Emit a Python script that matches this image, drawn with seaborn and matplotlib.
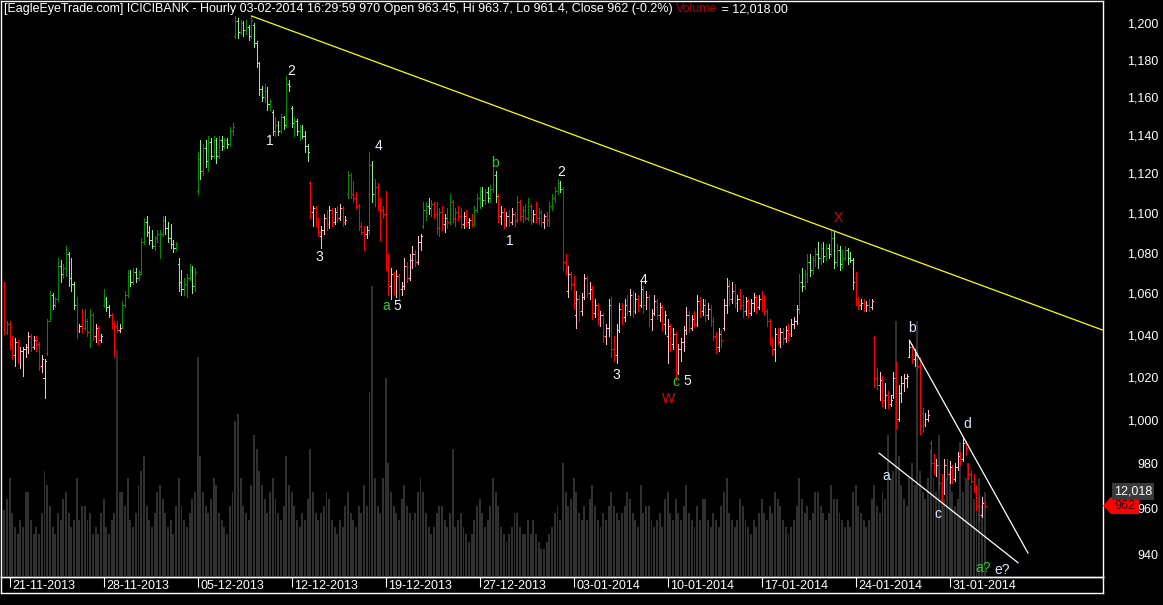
import numpy as np
import pandas as pd
import matplotlib
matplotlib.use("Agg")
import matplotlib.pyplot as plt
import matplotlib.transforms as mtransforms
from matplotlib.patches import Polygon
from matplotlib.ticker import NullLocator
import seaborn as sns

# ---------------- data ----------------
trading_days = ['20-11-2013', '21-11-2013', '22-11-2013', '25-11-2013', '26-11-2013', '27-11-2013',
                '28-11-2013', '29-11-2013', '02-12-2013', '03-12-2013', '04-12-2013', '05-12-2013',
                '06-12-2013', '09-12-2013', '10-12-2013', '11-12-2013', '12-12-2013', '13-12-2013',
                '16-12-2013', '17-12-2013', '18-12-2013', '19-12-2013', '20-12-2013', '23-12-2013',
                '24-12-2013', '26-12-2013', '27-12-2013', '30-12-2013', '31-12-2013', '01-01-2014',
                '02-01-2014', '03-01-2014', '06-01-2014', '07-01-2014', '08-01-2014', '09-01-2014',
                '10-01-2014', '13-01-2014', '14-01-2014', '15-01-2014', '16-01-2014', '17-01-2014',
                '20-01-2014', '21-01-2014', '22-01-2014', '23-01-2014', '24-01-2014', '27-01-2014',
                '28-01-2014', '29-01-2014', '30-01-2014', '31-01-2014', '03-02-2014']
bars_in_day = [2] + [7] * 52
date_ticks = ['21-11-2013', '28-11-2013', '05-12-2013', '12-12-2013', '19-12-2013', '27-12-2013',
              '03-01-2014', '10-01-2014', '17-01-2014', '24-01-2014', '31-01-2014']
price_ticks = [940, 960, 980, 1000, 1020, 1040, 1060, 1080, 1100, 1120, 1140, 1160, 1180, 1200]

opens = [1064, 1042,
    1046, 1036, 1031, 1037, 1029, 1033, 1034,
    1035, 1040, 1035, 1038, 1036, 1026, 1020,
    1032, 1047, 1060, 1055, 1058, 1074, 1070,
    1073, 1080, 1068, 1065, 1055, 1043, 1045,
    1044, 1047, 1042, 1050, 1040, 1044, 1038,
    1055, 1058, 1054, 1050, 1046, 1045, 1043,
    1044, 1055, 1060, 1069, 1066, 1071, 1068,
    1071, 1086, 1096, 1091, 1087, 1084, 1088,
    1084, 1090, 1097, 1093, 1088, 1085, 1083,
    1075, 1066, 1063, 1065, 1068, 1072, 1064,
    1112, 1128, 1122, 1134, 1127, 1137, 1130,
    1138, 1130, 1138, 1135, 1138, 1136, 1143,
    1194, 1202, 1196, 1201, 1197, 1199, 1194,
    1200, 1190, 1179, 1165, 1161, 1164, 1157,
    1153, 1143, 1146, 1143, 1150, 1146, 1168,
    1155, 1147, 1148, 1143, 1145, 1140, 1135,
    1116, 1101, 1103, 1096, 1089, 1092, 1098,
    1095, 1102, 1096, 1101, 1098, 1103, 1096,
    1110, 1120, 1110, 1108, 1104, 1094, 1091,
    1090, 1092, 1125, 1110, 1114, 1104, 1102,
    1100, 1076, 1064, 1070, 1062, 1069, 1063,
    1064, 1074, 1068, 1077, 1080, 1076, 1086,
    1094, 1102, 1104, 1103, 1105, 1100, 1093,
    1101, 1095, 1098, 1096, 1106, 1098, 1101,
    1099, 1095, 1099, 1096, 1097, 1095, 1102,
    1108, 1112, 1107, 1111, 1108, 1113, 1120,
    1109, 1099, 1101, 1095, 1099, 1096, 1100,
    1097, 1106, 1099, 1102, 1098, 1104, 1097,
    1100, 1098, 1101, 1096, 1099, 1097, 1104,
    1108, 1112, 1116, 1113, 1076, 1062, 1070,
    1065, 1050, 1058, 1052, 1059, 1068, 1061,
    1063, 1051, 1055, 1048, 1050, 1040, 1044,
    1055, 1034, 1031, 1043, 1053, 1049, 1055,
    1052, 1060, 1052, 1058, 1055, 1063, 1055,
    1059, 1048, 1051, 1057, 1050, 1054, 1046,
    1040, 1045, 1036, 1041, 1023, 1034, 1037,
    1043, 1050, 1044, 1048, 1046, 1057, 1052,
    1055, 1050, 1053, 1047, 1040, 1035, 1041,
    1044, 1055, 1064, 1058, 1062, 1056, 1058,
    1055, 1052, 1057, 1051, 1056, 1059, 1054,
    1058, 1055, 1052, 1047, 1038, 1034, 1041,
    1037, 1042, 1039, 1043, 1041, 1046, 1047,
    1053, 1066, 1064, 1070, 1076, 1072, 1077,
    1080, 1078, 1083, 1079, 1083, 1080, 1088,
    1076, 1082, 1075, 1078, 1082, 1078, 1077,
    1068, 1058, 1055, 1056, 1054, 1055, 1054,
    1039, 1020, 1017, 1019, 1010, 1012, 1008,
    1012, 1020, 1001, 1013, 1018, 1020, 1030,
    1035, 1029, 1031, 1026, 1004, 999, 1001,
    990, 981, 978, 980, 972, 968, 980,
    976, 979, 974, 979, 984, 983, 990,
    980, 976, 973, 970, 962, 958, 963.45]

highs = [1066, 1047,
    1047, 1040, 1039, 1038, 1035, 1035, 1036,
    1042, 1041, 1040, 1040, 1037, 1031, 1029,
    1048, 1062, 1061, 1059, 1078, 1077, 1075,
    1084, 1081, 1078, 1066, 1059, 1046, 1053,
    1053, 1048, 1053, 1051, 1046, 1045, 1041,
    1063, 1059, 1055, 1051, 1047, 1047, 1046,
    1057, 1062, 1072, 1072, 1073, 1073, 1072,
    1088, 1098, 1099, 1094, 1092, 1089, 1092,
    1092, 1099, 1099, 1096, 1095, 1087, 1086,
    1078, 1072, 1068, 1070, 1075, 1074, 1073,
    1132, 1138, 1136, 1138, 1140, 1139, 1140,
    1139, 1140, 1140, 1139, 1139, 1145, 1147,
    1205, 1204, 1203, 1202, 1203, 1200, 1205,
    1201, 1191, 1180, 1167, 1168, 1166, 1160,
    1154, 1150, 1148, 1152, 1151, 1172, 1170,
    1156, 1150, 1149, 1146, 1146, 1143, 1136,
    1117, 1104, 1104, 1098, 1094, 1100, 1102,
    1104, 1103, 1103, 1104, 1105, 1104, 1099,
    1122, 1121, 1117, 1111, 1105, 1096, 1094,
    1094, 1132, 1127, 1118, 1116, 1108, 1104,
    1112, 1080, 1073, 1071, 1072, 1070, 1066,
    1078, 1076, 1080, 1084, 1082, 1089, 1090,
    1106, 1106, 1108, 1107, 1106, 1106, 1103,
    1104, 1100, 1103, 1110, 1107, 1103, 1104,
    1103, 1101, 1102, 1098, 1100, 1104, 1110,
    1114, 1114, 1113, 1114, 1115, 1125, 1122,
    1110, 1104, 1103, 1101, 1102, 1103, 1101,
    1109, 1107, 1104, 1105, 1108, 1105, 1102,
    1106, 1103, 1102, 1100, 1101, 1106, 1110,
    1114, 1118, 1117, 1114, 1080, 1074, 1071,
    1069, 1062, 1060, 1061, 1070, 1069, 1066,
    1064, 1058, 1056, 1052, 1051, 1046, 1058,
    1059, 1040, 1046, 1056, 1056, 1058, 1060,
    1063, 1062, 1061, 1060, 1066, 1064, 1062,
    1060, 1053, 1060, 1058, 1056, 1055, 1052,
    1048, 1046, 1044, 1042, 1036, 1039, 1045,
    1054, 1052, 1050, 1052, 1060, 1059, 1058,
    1058, 1056, 1055, 1049, 1042, 1044, 1043,
    1058, 1068, 1067, 1066, 1065, 1060, 1063,
    1060, 1059, 1058, 1058, 1061, 1060, 1060,
    1062, 1060, 1053, 1048, 1039, 1044, 1044,
    1044, 1044, 1045, 1046, 1048, 1049, 1055,
    1070, 1073, 1072, 1080, 1080, 1079, 1083,
    1086, 1085, 1086, 1085, 1085, 1092, 1091,
    1085, 1084, 1082, 1084, 1083, 1081, 1078,
    1071, 1059, 1058, 1058, 1057, 1058, 1058,
    1040, 1025, 1023, 1021, 1018, 1014, 1012,
    1023, 1028, 1017, 1021, 1022, 1022, 1038,
    1036, 1034, 1033, 1030, 1006, 1004, 1005,
    991, 985, 983, 981, 976, 983, 983,
    982, 980, 981, 986, 986, 993, 991,
    981, 978, 976, 971, 967, 966, 963.7]

lows = [1041, 1041,
    1034, 1029, 1026, 1027, 1025, 1021, 1030,
    1032, 1033, 1034, 1033, 1024, 1023, 1011,
    1031, 1047, 1053, 1054, 1057, 1066, 1068,
    1069, 1064, 1062, 1053, 1039, 1042, 1042,
    1043, 1040, 1035, 1038, 1037, 1036, 1037,
    1054, 1052, 1049, 1044, 1030, 1042, 1042,
    1044, 1054, 1059, 1064, 1065, 1066, 1067,
    1070, 1085, 1089, 1085, 1083, 1082, 1086,
    1078, 1089, 1090, 1086, 1083, 1081, 1082,
    1062, 1060, 1060, 1059, 1067, 1061, 1062,
    1110, 1118, 1120, 1124, 1122, 1128, 1129,
    1126, 1129, 1133, 1134, 1134, 1135, 1141,
    1193, 1193, 1195, 1194, 1195, 1192, 1193,
    1188, 1177, 1162, 1159, 1158, 1154, 1154,
    1141, 1140, 1141, 1142, 1144, 1145, 1164,
    1145, 1140, 1141, 1138, 1139, 1132, 1127,
    1098, 1094, 1094, 1089, 1083, 1090, 1092,
    1093, 1094, 1095, 1096, 1097, 1094, 1095,
    1108, 1108, 1106, 1103, 1092, 1090, 1082,
    1088, 1090, 1106, 1104, 1102, 1087, 1098,
    1072, 1060, 1058, 1060, 1059, 1058, 1060,
    1063, 1066, 1067, 1073, 1074, 1075, 1082,
    1093, 1097, 1100, 1099, 1098, 1090, 1089,
    1092, 1091, 1093, 1095, 1096, 1094, 1097,
    1093, 1093, 1094, 1093, 1094, 1094, 1101,
    1103, 1104, 1105, 1106, 1106, 1111, 1106,
    1096, 1095, 1093, 1094, 1094, 1095, 1094,
    1096, 1097, 1096, 1097, 1097, 1095, 1096,
    1096, 1095, 1094, 1093, 1094, 1094, 1102,
    1106, 1110, 1111, 1072, 1070, 1059, 1063,
    1053, 1044, 1047, 1050, 1058, 1059, 1058,
    1048, 1049, 1046, 1045, 1037, 1036, 1040,
    1030, 1028, 1027, 1042, 1046, 1047, 1050,
    1050, 1049, 1051, 1052, 1054, 1051, 1053,
    1045, 1043, 1050, 1048, 1047, 1043, 1041,
    1027, 1033, 1034, 1019, 1022, 1028, 1033,
    1041, 1042, 1043, 1045, 1045, 1049, 1050,
    1047, 1048, 1045, 1038, 1032, 1033, 1035,
    1043, 1051, 1055, 1056, 1054, 1052, 1053,
    1049, 1050, 1049, 1050, 1052, 1051, 1053,
    1052, 1050, 1045, 1036, 1031, 1028, 1036,
    1035, 1036, 1037, 1038, 1040, 1044, 1046,
    1051, 1062, 1063, 1066, 1069, 1070, 1074,
    1073, 1075, 1076, 1077, 1078, 1079, 1073,
    1074, 1072, 1073, 1077, 1075, 1076, 1063,
    1055, 1053, 1053, 1052, 1052, 1052, 1053,
    1016, 1015, 1010, 1007, 1006, 1006, 1007,
    1011, 997, 1000, 1009, 1014, 1016, 1030,
    1027, 1026, 1024, 994, 995, 998, 1000,
    979, 976, 975, 970, 963, 967, 974,
    972, 972, 973, 978, 980, 982, 985,
    974, 972, 968, 960, 955, 957, 961.4]

closes = [1045, 1046,
    1036, 1031, 1037, 1029, 1033, 1034, 1035,
    1040, 1035, 1038, 1036, 1026, 1029, 1028,
    1047, 1060, 1055, 1058, 1074, 1070, 1073,
    1080, 1068, 1065, 1055, 1043, 1045, 1044,
    1047, 1042, 1050, 1040, 1044, 1038, 1040,
    1058, 1054, 1050, 1046, 1045, 1043, 1044,
    1055, 1060, 1069, 1066, 1071, 1068, 1070,
    1086, 1096, 1091, 1087, 1084, 1088, 1090,
    1090, 1097, 1093, 1088, 1085, 1083, 1085,
    1066, 1063, 1065, 1068, 1072, 1064, 1071,
    1128, 1122, 1134, 1127, 1137, 1130, 1138,
    1130, 1138, 1135, 1138, 1136, 1143, 1145,
    1202, 1196, 1201, 1197, 1199, 1194, 1203,
    1190, 1179, 1165, 1161, 1164, 1157, 1159,
    1143, 1146, 1143, 1150, 1146, 1168, 1167,
    1147, 1148, 1143, 1145, 1140, 1135, 1132,
    1101, 1103, 1096, 1091, 1092, 1098, 1095,
    1102, 1096, 1101, 1098, 1103, 1096, 1097,
    1120, 1110, 1108, 1104, 1094, 1091, 1090,
    1092, 1125, 1110, 1114, 1104, 1102, 1100,
    1076, 1064, 1070, 1062, 1069, 1063, 1064,
    1074, 1068, 1077, 1080, 1076, 1086, 1089,
    1102, 1104, 1103, 1105, 1100, 1093, 1101,
    1095, 1098, 1096, 1106, 1098, 1101, 1099,
    1095, 1099, 1096, 1097, 1095, 1102, 1108,
    1112, 1107, 1111, 1108, 1113, 1120, 1109,
    1099, 1101, 1095, 1099, 1096, 1100, 1097,
    1106, 1099, 1102, 1098, 1104, 1097, 1100,
    1098, 1101, 1096, 1099, 1097, 1104, 1108,
    1112, 1116, 1113, 1076, 1073, 1070, 1065,
    1056, 1058, 1052, 1059, 1068, 1061, 1063,
    1051, 1055, 1048, 1050, 1040, 1044, 1055,
    1034, 1031, 1043, 1053, 1049, 1055, 1052,
    1060, 1052, 1058, 1055, 1063, 1055, 1059,
    1048, 1051, 1057, 1050, 1054, 1046, 1050,
    1045, 1036, 1041, 1023, 1034, 1037, 1043,
    1050, 1044, 1048, 1046, 1057, 1052, 1055,
    1050, 1053, 1047, 1040, 1035, 1041, 1038,
    1055, 1064, 1058, 1062, 1056, 1058, 1055,
    1052, 1057, 1051, 1056, 1059, 1054, 1058,
    1055, 1052, 1047, 1038, 1034, 1041, 1039,
    1042, 1039, 1043, 1041, 1046, 1047, 1053,
    1066, 1064, 1070, 1076, 1072, 1077, 1080,
    1078, 1083, 1079, 1083, 1080, 1088, 1076,
    1082, 1075, 1078, 1082, 1078, 1077, 1066,
    1058, 1055, 1056, 1054, 1055, 1054, 1057,
    1020, 1017, 1019, 1010, 1012, 1008, 1010,
    1020, 1001, 1013, 1018, 1020, 1021, 1035,
    1029, 1031, 1026, 998, 999, 1001, 1003,
    981, 978, 980, 972, 968, 980, 976,
    979, 974, 979, 984, 983, 990, 988,
    976, 973, 970, 962, 958, 963, 962]

volumes = [9500, 11000,
    14000, 9000, 7000, 6000, 8000, 7000, 12000,
    12000, 8000, 6000, 7000, 6000, 9000, 15000,
    13000, 10000, 7000, 6000, 9000, 8000, 11000,
    12000, 9000, 7000, 8000, 14000, 8000, 10000,
    10000, 8000, 9000, 6000, 7000, 6000, 9000,
    11000, 7000, 6000, 8000, 9000, 32000, 12000,
    12000, 10000, 14000, 8000, 7000, 9000, 13000,
    15000, 17000, 10000, 8000, 7000, 9000, 12000,
    13000, 11000, 9000, 7000, 8000, 6000, 10000,
    14000, 10000, 8000, 7000, 9000, 11000, 12000,
    31000, 17000, 12000, 10000, 9000, 11000, 14000,
    13000, 9000, 8000, 7000, 6000, 10000, 12000,
    22000, 23000, 14000, 10000, 9000, 8000, 13000,
    20000, 18000, 15000, 13000, 11000, 9000, 12000,
    14000, 11000, 9000, 8000, 10000, 17000, 13000,
    12000, 10000, 8000, 7000, 9000, 8000, 11000,
    18000, 12000, 9000, 8000, 9000, 10000, 12000,
    11000, 8000, 7000, 6000, 8000, 7000, 10000,
    12000, 9000, 8000, 7000, 10000, 9000, 13000,
    10000, 26000, 41000, 14000, 10000, 9000, 14000,
    28000, 16000, 12000, 10000, 9000, 8000, 11000,
    13000, 10000, 9000, 8000, 9000, 12000, 14000,
    12000, 9000, 7000, 6000, 7000, 9000, 10000,
    10000, 8000, 7000, 9000, 18000, 7000, 8000,
    9000, 7000, 6000, 5000, 6000, 8000, 10000,
    11000, 9000, 7000, 8000, 10000, 14000, 12000,
    10000, 7000, 6000, 5000, 6000, 7000, 9000,
    9000, 7000, 6000, 6000, 8000, 6000, 8000,
    6000, 5000, 4000, 4000, 5000, 6000, 7000,
    9000, 10000, 8000, 16000, 12000, 10000, 11000,
    14000, 12000, 9000, 8000, 10000, 8000, 11000,
    13000, 10000, 8000, 7000, 9000, 8000, 10000,
    12000, 10000, 9000, 8000, 9000, 10000, 12000,
    11000, 9000, 8000, 7000, 13000, 9000, 10000,
    10000, 8000, 7000, 8000, 9000, 7000, 11000,
    12000, 9000, 8000, 11000, 9000, 8000, 10000,
    13000, 9000, 8000, 7000, 10000, 8000, 11000,
    11000, 8000, 7000, 9000, 8000, 7000, 10000,
    12000, 14000, 9000, 8000, 7000, 8000, 11000,
    10000, 8000, 7000, 6000, 8000, 7000, 9000,
    11000, 9000, 8000, 10000, 9000, 12000, 11000,
    10000, 8000, 7000, 6000, 7000, 8000, 10000,
    14000, 11000, 9000, 10000, 8000, 9000, 12000,
    12000, 10000, 9000, 8000, 9000, 13000, 11000,
    11000, 9000, 8000, 7000, 8000, 7000, 12000,
    13000, 10000, 9000, 8000, 7000, 8000, 11000,
    13000, 10000, 9000, 12000, 11000, 20000, 14000,
    15000, 36000, 17000, 13000, 11000, 10000, 14000,
    16000, 13000, 36000, 15000, 12000, 11000, 14000,
    18000, 14000, 12000, 20000, 13000, 11000, 14000,
    15000, 12000, 10000, 11000, 19000, 12000, 14000,
    16000, 13000, 11000, 12000, 14000, 10000, 12018]

wave_labels = ['1', '2', '3', '4', 'a', '5', 'b', '1', '2', '3', '4', 'c', '5', 'W', 'X',
               'b', 'a', 'c', 'd', 'a?', 'e?']
wave_bar = [98.9, 106.8, 117.2, 139.2, 142.1, 146.3, 182.8, 188.4, 207.4, 227.8, 237.9, 250.2,
            254.3, 247.2, 310.4, 338.0, 328.3, 347.7, 358.5, 364.5, 371.5]
wave_price = [1137.6, 1174.9, 1078.6, 1135.0, 1054.5, 1054.5, 1126.2, 1086.5, 1121.6, 1021.6,
              1067.2, 1018.3, 1018.8, 1010.2, 1098.1, 1043.9, 975.2, 958.4, 998.7, 934.8, 933.9]
wave_kind = ['w', 'w', 'w', 'w', 'g', 'w', 'g', 'w', 'w', 'w', 'w', 'g', 'w', 'r', 'r',
             'b', 'b', 'b', 'b', 'g', 'b']
lower_line_bar = [325.7, 377.5]
lower_line_price = [985.5, 937.0]

# ---------------- figure ----------------
sns.set_theme(style="dark")
plt.rcParams['font.family'] = ['Liberation Sans', 'DejaVu Sans']

W, H = 1163, 605
fig = plt.figure(figsize=(W / 100, H / 100), dpi=100, facecolor='black')

x_left, x_right = -1.2, 409.1
ax = fig.add_axes([1 / W, 1 - 577 / H, 1102 / W, 576 / H])
axv = ax.twinx()
ax.set_zorder(2)
axv.set_zorder(1)
ax.patch.set_visible(False)
axv.patch.set_facecolor('black')

n = len(closes)
idx = np.arange(n)
o = np.array(opens, float); h = np.array(highs, float)
l = np.array(lows, float); c = np.array(closes, float)
v = np.array(volumes, float)

# volume
axv.bar(idx, v, width=0.72, color='#303030', linewidth=0, antialiased=False)
axv.set_ylim(0, 81150)
axv.set_xlim(x_left, x_right)
axv.set_yticks([])
axv.grid(False)
for s in axv.spines.values():
    s.set_visible(False)

# price bars (trend colour from a slow EMA, shade from bar direction)
ema = pd.Series(c).ewm(span=100, adjust=False).mean().values
bull = c > ema
up = c >= o
cols = np.where(bull, np.where(up, '#008c00', '#90ee90'), np.where(up, '#ffc0cb', '#ff0000'))
ax.set_yscale('log')
lw = 0.72
ax.vlines(idx, l, h, colors=cols, linewidth=lw, antialiased=False)
ax.hlines(o, idx - 0.4, idx, colors=cols, linewidth=lw, antialiased=False)
ax.hlines(c, idx, idx + 0.4, colors=cols, linewidth=lw, antialiased=False)
ax.set_xlim(x_left, x_right)
ax.set_ylim(930.9, 1213.3)
ax.set_xticks([])
ax.set_yticks([])
ax.yaxis.set_minor_locator(NullLocator())
ax.grid(False)
for s in ax.spines.values():
    s.set_color('white')
    s.set_linewidth(1.0)

# trend lines
def log_line(i0, p0, i1, p1, i_end_a, i_end_b):
    k = (np.log(p1) - np.log(p0)) / (i1 - i0)
    xs = np.array([i_end_a, i_end_b])
    return xs, np.exp(np.log(p0) + k * (xs - i0))

day_start = np.concatenate([[0], np.cumsum(bars_in_day)[:-1]])
i_top = int(np.where(h == h.max())[0][-1])
seg = slice(day_start[trading_days.index('20-01-2014')], day_start[trading_days.index('27-01-2014')])
i_x = seg.start + int(np.argmax(h[seg]))
xs, ys = log_line(i_top, h[i_top], i_x, h[i_x], i_top, x_right)
sns.lineplot(x=xs, y=ys, ax=ax, color='#ffff00', linewidth=0.9, sort=False)

seg_b = slice(day_start[trading_days.index('28-01-2014')], day_start[trading_days.index('30-01-2014')])
i_b = seg_b.start + int(np.argmax(h[seg_b]))
seg_d = slice(day_start[trading_days.index('31-01-2014')], day_start[trading_days.index('03-02-2014')])
i_d = seg_d.start + int(np.argmax(h[seg_d]))
xs, ys = log_line(i_b, h[i_b], i_d, h[i_d], i_b, 381.2)
sns.lineplot(x=xs, y=ys, ax=ax, color='white', linewidth=0.9, sort=False)
sns.lineplot(x=lower_line_bar, y=lower_line_price, ax=ax, color='white', linewidth=0.9, sort=False)
ax.set_xlim(x_left, x_right)
ax.set_ylim(930.9, 1213.3)
if ax.get_legend():
    ax.get_legend().remove()

# wave labels
kind_color = {'w': '#f2f2ff', 'g': '#1fd31f', 'r': '#e00000', 'b': '#dce8ff'}
for t, bi, pr, k in zip(wave_labels, wave_bar, wave_price, wave_kind):
    ax.text(bi, pr, t, color=kind_color[k], fontsize=10, ha='center', va='center', zorder=5)

# right price axis labels
blend = mtransforms.blended_transform_factory(fig.transFigure, ax.transData)
for p in price_ticks:
    ax.text(1158 / W, p, f"{p:,}", transform=blend, ha='right', va='center',
            color='white', fontsize=9, clip_on=False)

# date strip
axd = fig.add_axes([1 / W, 1 - 593 / H, 1102 / W, 16 / H])
axd.set_facecolor('black')
axd.set_xlim(x_left, x_right)
axd.set_ylim(0, 1)
axd.set_xticks([]); axd.set_yticks([])
axd.grid(False)
for s in axd.spines.values():
    s.set_color('white'); s.set_linewidth(1.0)
for d in date_ticks:
    pos = day_start[trading_days.index(d)]
    axd.vlines(pos, 0.4, 1.0, colors='white', linewidth=0.8)
    axd.text(pos + 1.0, 0.45, d, color='white', fontsize=9, ha='left', va='center')

# last value markers on right
to_disp = ax.transData.transform
yc = to_disp((0, c[-1]))[1]
poly = Polygon([[1103, yc], [1111, yc + 8.5], [1139, yc + 8.5], [1139, yc - 8.5], [1111, yc - 8.5]],
               closed=True, transform=mtransforms.IdentityTransform(), facecolor='#ff0000',
               edgecolor='none', zorder=10)
fig.patches.append(poly)
fig.text(1125 / W, yc / H, f"{int(c[-1])}", color='#3a0000', fontsize=9, ha='center', va='center', zorder=11)
yv = axv.transData.transform((0, v[-1]))[1]
fig.text(1133 / W, yv / H, f"{int(v[-1]):,}", color='white', fontsize=9, ha='center', va='center',
         bbox=dict(boxstyle='square,pad=0.18', facecolor='#3a3a3a', edgecolor='none'), zorder=11)

# title text
r = fig.canvas.get_renderer()
parts = [("[EagleEyeTrade.com] ICICIBANK - Hourly 03-02-2014 16:29:59 970 Open 963.45, Hi 963.7, "
          "Lo 961.4, Close 962 (-0.2%) ", 'white'),
         ("Volume", '#b00000'), (" = 12,018.00", 'white')]
xpix = 4
for txt, col in parts:
    t = fig.text(xpix / W, 1 - 9 / H, txt, color=col, fontsize=9, ha='left', va='center')
    xpix += t.get_window_extent(renderer=r).width

fig.savefig('out.png', dpi=100, facecolor='black')
